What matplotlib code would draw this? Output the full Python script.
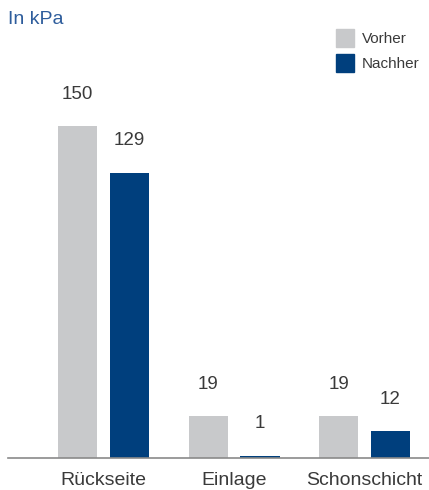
import numpy as np
import matplotlib.pyplot as plt
from matplotlib.patches import Patch

plt.rcParams['font.family'] = ['Liberation Sans', 'DejaVu Sans']

# Druckwerte je Position, vor und nach der Behandlung
categories = ["Rückseite", "Einlage", "Schonschicht"]
vorher = [150, 19, 19]
nachher = [129, 1, 12]

GRAY = "#c8c9cb"
BLUE = "#003f7d"
TEXT = "#3a3a3a"

fig = plt.figure(figsize=(4.29, 4.90), dpi=100)
ax = fig.add_axes([8 / 429, 32 / 490, 421 / 429, 420 / 490])

x = np.arange(len(categories))
w = 0.299
off = 0.199
b1 = ax.bar(x - off, vorher, w, color=GRAY)
b2 = ax.bar(x + off, nachher, w, color=BLUE)

for bars in (b1, b2):
    for rect in bars:
        h = rect.get_height()
        ax.annotate(f"{h:g}", (rect.get_x() + rect.get_width() / 2, h),
                    xytext=(0, 23), textcoords="offset points",
                    ha="center", va="center", fontsize=13.5, color=TEXT)

ax.set_xlim(-0.732, 2.494)
ax.set_ylim(0, 190)
ax.set_xticks(x)
ax.set_xticklabels(categories, fontsize=14, color=TEXT)
ax.tick_params(axis="x", length=0, pad=10)
ax.set_yticks([])
for s in ("top", "right", "left"):
    ax.spines[s].set_visible(False)
ax.spines["bottom"].set_color("#8a8a8a")
ax.spines["bottom"].set_linewidth(1.2)

fig.text(8 / 429, 1 - 20 / 490, "In kPa", fontsize=14, color="#2e5d9c",
         ha="left", va="center")

handles = [Patch(color=GRAY, label="Vorher"), Patch(color=BLUE, label="Nachher")]
fig.legend(handles=handles, loc="upper left", bbox_to_anchor=(336 / 429, 1 - 29 / 490),
           frameon=False, fontsize=11, labelcolor=TEXT, handlelength=1.2,
           handleheight=1.4, handletextpad=0.5, labelspacing=0.5,
           borderpad=0, borderaxespad=0)

fig.savefig("out.png", dpi=100)
